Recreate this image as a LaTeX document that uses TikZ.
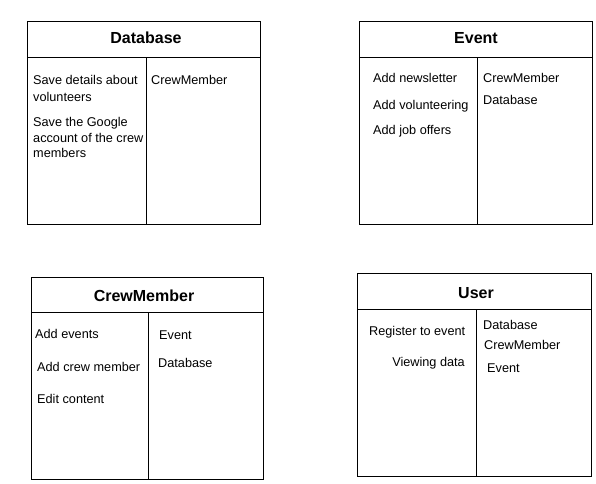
\documentclass[tikz,border=0pt]{standalone}
\usepackage{fontspec}
\setmainfont{Liberation Sans}
\usetikzlibrary{positioning}
\tikzset{
  card/.style={draw, line width=1pt},
  cardtitle/.style={font=\fontsize{16}{18}\selectfont\bfseries, anchor=base, inner sep=0pt},
  item/.style={font=\fontsize{12.7}{15}\selectfont, anchor=base west, inner sep=0pt},
}

\begin{document}
\begin{tikzpicture}[x=1pt,y=-1pt]
  \useasboundingbox (0,0) rectangle (596,483);

  % Database card
  \draw[card] (27,21) rectangle (260,224);
  \draw[card] (27,57) -- (260,57) (146,57) -- (146,224);
  \node[cardtitle] (dbTitle) at (146,43) {Database};
  \node[item] (dbSave) at (33,84.5) {Save details about};
  \node[item] (dbVol) at (33,101.5) {volunteers};
  \node[item] (dbGoogle) at (33,126.5) {Save the Google};
  \node[item] (dbAccount) at (33,142.5) {account of the crew};
  \node[item] (dbMembers) at (33,157.5) {members};
  \node[item] (dbCrew) at (151,84.5) {CrewMember};

  % Event card
  \draw[card] (359,21) rectangle (592,224);
  \draw[card] (359,57) -- (592,57) (477,57) -- (477,224);
  \node[cardtitle] (evTitle) at (476,43) {Event};
  \node[item] (evNews) at (373,82.5) {Add newsletter};
  \node[item] (evVol) at (373,109.5) {Add volunteering};
  \node[item] (evJobs) at (373,134.5) {Add job offers};
  \node[item] (evCrew) at (483,82.5) {CrewMember};
  \node[item] (evDb) at (483,104.5) {Database};

  % CrewMember card
  \draw[card] (31,277) rectangle (263,479);
  \draw[card] (31,312) -- (263,312) (148,312) -- (148,479);
  \node[cardtitle] (cmTitle) at (144,301) {CrewMember};
  \node[item] (cmEvents) at (35,338.5) {Add events};
  \node[item] (cmCrew) at (37,371.5) {Add crew member};
  \node[item] (cmEdit) at (37,403.5) {Edit content};
  \node[item] (cmEv) at (159,339.5) {Event};
  \node[item] (cmDb) at (158,367.5) {Database};

  % User card
  \draw[card] (357,273) rectangle (591,476);
  \draw[card] (357,309) -- (591,309) (476,309) -- (476,476);
  \node[cardtitle] (usTitle) at (476,298) {User};
  \node[item] (usReg) at (369,335.5) {Register to event};
  \node[item, anchor=base east] (usView) at (465,366.5) {Viewing data};
  \node[item] (usDb) at (483,329.5) {Database};
  \node[item] (usCrew) at (484,349.5) {CrewMember};
  \node[item] (usEv) at (487,372.5) {Event};
\end{tikzpicture}
\end{document}
